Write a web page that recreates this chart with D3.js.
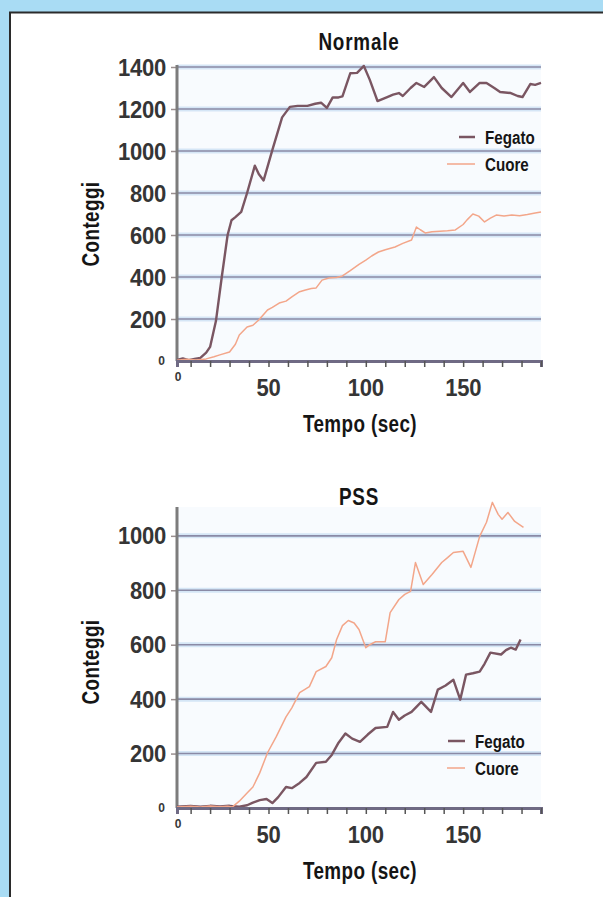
<!DOCTYPE html>
<html><head><meta charset="utf-8">
<script src="https://cdn.jsdelivr.net/npm/d3@7"></script>
<style>
html,body{margin:0;padding:0;background:#a9dcf4;}
svg{display:block;}
</style></head>
<body>
<svg id="c" width="603" height="897"></svg>
<script>
// ---- data ----
const seriesNames = ["Fegato", "Cuore"];
const xTickValues = [50, 100, 150];
const xMinorTicks = [10,20,30,40,50,60,70,80,90,100,110,120,130,140,150,160,170,180,190];
const yTicksNormale = [200,400,600,800,1000,1200,1400];
const yTicksPSS = [200,400,600,800,1000];

const normFegatoT = [3,6,9,12,15,18,20,23,26,29,31,33,36,39,43,45,47.5,52,57,61,65,70,74,77,80,83,86,88,92,95.5,99,102,106,111,114,117,119,123,126,130,135,139,144,147,150,153.5,158.5,162,166,169,174.5,178,180.5,184.5,187,190];
const normFegatoV = [5,12,4,10,15,40,67,190,400,600,670,685,710,800,930,890,860,1005,1160,1210,1215,1215,1225,1230,1205,1255,1255,1260,1370,1372,1405,1340,1238,1257,1268,1276,1262,1300,1324,1305,1352,1300,1257,1290,1324,1281,1324,1324,1300,1281,1276,1262,1257,1319,1315,1324];

const normCuoreT = [3,8,13,18,22,25,30,33,35,39,42,45,49.5,52,55.5,59,62,66,69,72,74.5,77.5,81,85,88,92,96.5,100,103,106.5,110,115,119,123.5,126,128,130.5,134,138,142,146,150,152,155,158,161,164,167,171,175,179,183,187,190];
const normCuoreV = [3,8,5,10,20,29,43,80,124,162,170,195,243,255,276,285,305,330,338,345,348,385,395,398,405,430,460,480,500,519,530,543,560,576,638,625,610,615,618,620,624,650,672,700,690,662,680,695,690,695,692,698,705,710];

const pssFegatoT = [3,10,15,20,25,30,35,39,42,45.5,49,52,55,59,62,66,69.5,74.5,79.5,82.5,86,89.5,93,97,101,105,111,114,117,120,123.5,128.5,133.5,137,141,145,148.5,151.5,155,158.5,161,164,169.5,172,174.5,177,179.5];
const pssFegatoV = [5,8,5,8,6,8,5,10,20,29,33,18,40,77,73,92,114,166,170,195,240,274,255,243,270,294,298,353,324,340,353,390,353,435,450,471,398,490,495,501,530,571,564,580,589,582,619];

const pssCuoreT = [3,10,15,20,25,29,31.5,35,39,42,45.5,49.5,54,59,62,66,71,74.5,79.5,82.5,85,88,91,94,96.5,100,102,105,110,112.5,117,120,123,125.5,129.5,134,139,142,145,150,154,158.5,162,165,168,170,173,176.5,181];
const pssCuoreV = [4,6,4,7,5,6,4,25,55,77,129,203,262,335,368,424,446,501,520,552,619,670,689,680,656,589,600,611,611,718,766,785,796,902,821,858,902,920,939,943,884,998,1050,1123,1079,1061,1086,1053,1031];

// ---- style ----
const colors = {Fegato: "#7a5662", Cuore: "#f3a68a"};
const widths = {Fegato: 2.4, Cuore: 1.5};
const font = "'Liberation Sans',Arial,sans-serif";
const SX = 0.82; // condensed look

const svg = d3.select("#c");
svg.append("rect").attr("x", 10).attr("y", 12.5).attr("width", 620).attr("height", 900)
  .attr("fill", "#ffffff").attr("stroke", "#2b2b2b").attr("stroke-width", 2);

const x = d3.scaleLinear().domain([3, 190]).range([177, 541]);

function condText(parent, px, py, str, size, anchor, rot, ls, sx, fill) {
  const g = parent.append("g").attr("transform", `translate(${px},${py})` + (rot ? ` rotate(${rot})` : "") + ` scale(${sx || SX},1)`);
  g.append("text").attr("x", 0).attr("y", 0).attr("text-anchor", anchor)
    .attr("font-family", font).attr("font-weight", "bold").attr("font-size", size)
    .attr("letter-spacing", ls || 0).attr("fill", fill || "#151515").text(str);
  return g;
}

function drawChart(cfg) {
  const g = svg.append("g");
  const y = d3.scaleLinear().domain([0, cfg.yMax]).range([cfg.y0, cfg.yTop]);
  g.append("rect").attr("x", x(3)).attr("y", y(cfg.yMax)).attr("width", x(190) - x(3))
    .attr("height", y(0) - y(cfg.yMax)).attr("fill", "#f8fbfe");
  const grid = g.append("g");
  grid.selectAll("line.halo").data(cfg.yTicks).join("line").attr("class", "halo")
    .attr("x1", x(3)).attr("x2", x(190)).attr("y1", d => y(d)).attr("y2", d => y(d))
    .attr("stroke", "#d5e6f6").attr("stroke-width", 5);
  grid.selectAll("line.main").data(cfg.yTicks).join("line").attr("class", "main")
    .attr("x1", x(3)).attr("x2", x(190)).attr("y1", d => y(d)).attr("y2", d => y(d))
    .attr("stroke", "#8a8aa6").attr("stroke-width", 1.6);

  // y axis (ticks via d3 axis, labels condensed)
  const yAxis = d3.axisLeft(y).tickValues(cfg.yTicks).tickSize(6).tickFormat("");
  const ya = g.append("g").attr("transform", `translate(${x(3)},0)`).call(yAxis);
  ya.select(".domain").remove();
  ya.selectAll(".tick line").attr("stroke", "#9a8f8f").attr("stroke-width", 1.5);
  cfg.yTicks.forEach(v => condText(g, x(3) - 11, y(v) + 8.5, d3.format("d")(v), 24.5, "end", 0, -0.3, 0.9, "#353535"));
  g.append("line").attr("x1", x(3)).attr("x2", x(3)).attr("y1", cfg.axisTop).attr("y2", y(0))
    .attr("stroke", "#7c7c7c").attr("stroke-width", 3);
  g.append("text").attr("x", x(3) - 12).attr("y", y(0)).attr("dy", "0.35em").attr("text-anchor", "end")
    .attr("font-family", font).attr("font-weight", "bold").attr("font-size", 12).attr("fill", "#383838").text("0");

  const line = d3.line().x(d => x(d[0])).y(d => y(d[1]));
  cfg.series.forEach(s => {
    const pts = s.t.map((t, i) => [t, s.v[i]]);
    g.append("path").datum(pts).attr("d", line).attr("fill", "none")
      .attr("stroke", colors[s.name]).attr("stroke-width", widths[s.name]).attr("stroke-linejoin", "round");
  });

  const xAxis = d3.axisBottom(x).tickValues(xMinorTicks).tickSize(6).tickFormat("");
  const xa = g.append("g").attr("transform", `translate(0,${y(0)})`).call(xAxis);
  xa.select(".domain").attr("stroke", "#6f6a84").attr("stroke-width", 3);
  xa.selectAll(".tick line").attr("stroke", "#555").attr("stroke-width", 1.5);
  xTickValues.forEach(v => condText(g, x(v), y(0) + 35, d3.format("d")(v), 24.5, "middle", 0, -0.3, 0.9, "#353535"));
  g.append("text").attr("x", x(3) + 1).attr("y", y(0) + 20).attr("text-anchor", "middle")
    .attr("font-family", font).attr("font-weight", "bold").attr("font-size", 12).attr("fill", "#383838").text("0");

  condText(g, 359, cfg.titleY, cfg.title, 23, "middle", 0, 1);
  condText(g, 360, y(0) + 71, "Tempo (sec)", 23, "middle", 0, 0.5);
  condText(g, 99, cfg.ylabY, "Conteggi", 23, "middle", -90, 0.5);

  const lg = g.append("g");
  seriesNames.forEach((n, i) => {
    const yy = cfg.legY + i * 27;
    lg.append("line").attr("x1", cfg.legX - cfg.swatch[i]).attr("x2", cfg.legX - 10)
      .attr("y1", yy).attr("y2", yy).attr("stroke", colors[n]).attr("stroke-width", n === "Fegato" ? 2.5 : 1.5);
    condText(lg, cfg.legX, yy + 6.5, n, 18.5, "start", 0, 0);
  });
}

drawChart({
  title: "Normale", titleY: 50, yMax: 1400, y0: 361, yTop: 67, axisTop: 65, yTicks: yTicksNormale,
  ylabY: 224, legX: 485, legY: 137, swatch: [26, 38],
  series: [{name: "Fegato", t: normFegatoT, v: normFegatoV}, {name: "Cuore", t: normCuoreT, v: normCuoreV}]
});
drawChart({
  title: "PSS", titleY: 505, yMax: 1106, y0: 808, yTop: 507, axisTop: 507, yTicks: yTicksPSS,
  ylabY: 662, legX: 475, legY: 741, swatch: [27, 28],
  series: [{name: "Fegato", t: pssFegatoT, v: pssFegatoV}, {name: "Cuore", t: pssCuoreT, v: pssCuoreV}]
});
</script>
</body></html>
